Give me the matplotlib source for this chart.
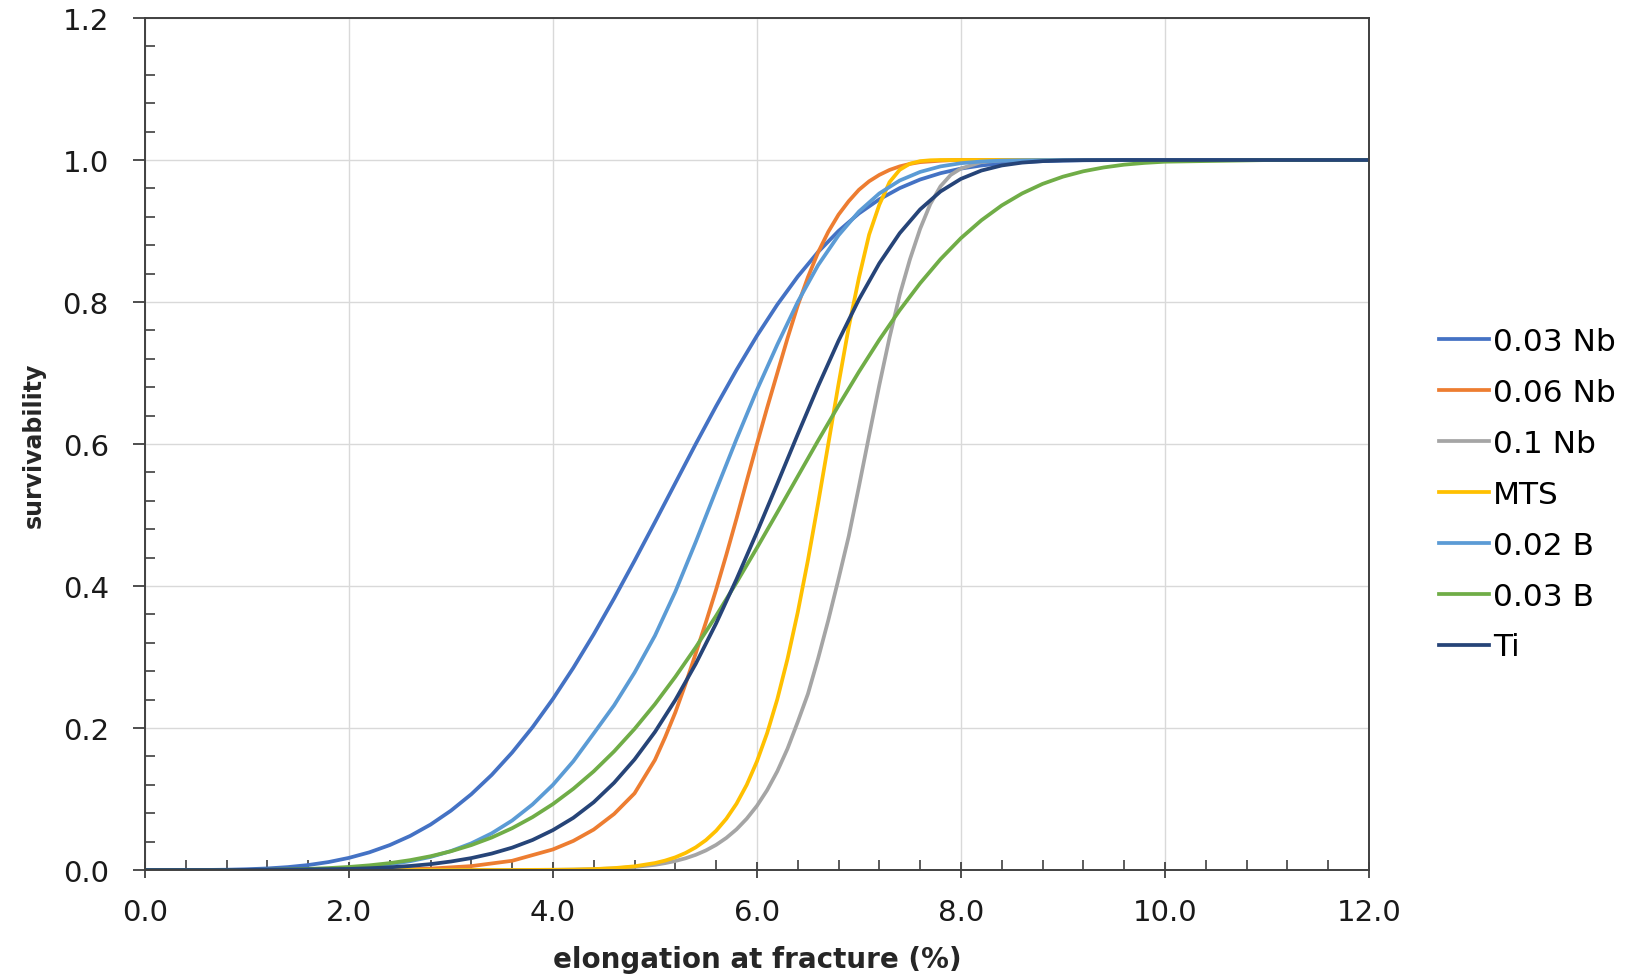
import matplotlib
matplotlib.use("Agg")
import matplotlib.pyplot as plt
from matplotlib.ticker import MultipleLocator, FormatStrFormatter

# elongation (%) sample points for the gentler curves
elong = [0.0, 0.2, 0.4, 0.6, 0.8, 1.0, 1.2, 1.4, 1.6, 1.8,
         2.0, 2.2, 2.4, 2.6, 2.8, 3.0, 3.2, 3.4, 3.6, 3.8,
         4.0, 4.2, 4.4, 4.6, 4.8, 5.0, 5.2, 5.4, 5.6, 5.8,
         6.0, 6.2, 6.4, 6.6, 6.8, 7.0, 7.2, 7.4, 7.6, 7.8,
         8.0, 8.2, 8.4, 8.6, 8.8, 9.0, 9.2, 9.4, 9.6, 9.8,
         10.0, 11.0, 12.0]

# finer sampling for the steep curves (0.06 Nb, 0.1 Nb, MTS)
elong_fine = [0.0, 1.0, 2.0, 2.4, 2.8, 3.2, 3.6, 4.0, 4.2, 4.4, 4.6, 4.8,
              5.0, 5.1, 5.2, 5.3, 5.4, 5.5, 5.6, 5.7, 5.8, 5.9,
              6.0, 6.1, 6.2, 6.3, 6.4, 6.5, 6.6, 6.7, 6.8, 6.9,
              7.0, 7.1, 7.2, 7.3, 7.4, 7.5, 7.6, 7.7, 7.8, 7.9,
              8.0, 8.2, 8.4, 8.6, 9.0, 10.0, 12.0]

nb003 = [0.0, 0.0, 0.0, 0.0001, 0.0004, 0.0011, 0.0022, 0.0041, 0.0070, 0.0112,
         0.0171, 0.0249, 0.0351, 0.0480, 0.0640, 0.0836, 0.1068, 0.1340, 0.1655, 0.2011,
         0.2410, 0.2848, 0.3321, 0.3826, 0.4355, 0.4899, 0.5450, 0.6000, 0.6533, 0.7044,
         0.7524, 0.7964, 0.8358, 0.8705, 0.9000, 0.9247, 0.9446, 0.9604, 0.9725, 0.9814,
         0.9879, 0.9923, 0.9953, 0.9972, 0.9984, 0.9991, 0.9996, 0.9998, 0.9999, 1.0,
         1.0, 1.0, 1.0]

nb006 = [0.0, 0.0, 0.0001, 0.0004, 0.0020, 0.0055, 0.0130, 0.029, 0.041, 0.057, 0.079, 0.108,
         0.155, 0.187, 0.222, 0.262, 0.305, 0.349, 0.395, 0.444, 0.495, 0.548,
         0.600, 0.651, 0.700, 0.749, 0.795, 0.835, 0.870, 0.899, 0.923, 0.942,
         0.958, 0.970, 0.979, 0.986, 0.991, 0.9945, 0.997, 0.998, 0.999, 0.9997,
         1.0, 1.0, 1.0, 1.0, 1.0, 1.0, 1.0]

nb01 = [0.0, 0.0, 0.0, 0.0, 0.0, 0.0, 0.0001, 0.0003, 0.0006, 0.0012, 0.0023, 0.0042,
        0.0073, 0.0097, 0.0127, 0.0165, 0.0214, 0.0276, 0.0354, 0.0452, 0.0573, 0.0723,
        0.0904, 0.1125, 0.1391, 0.1709, 0.2085, 0.2480, 0.2980, 0.3520, 0.4100, 0.4700,
        0.5400, 0.6120, 0.6830, 0.7500, 0.8100, 0.8600, 0.9030, 0.9380, 0.9630, 0.9790,
        0.9880, 0.9970, 0.9995, 1.0, 1.0, 1.0, 1.0]

mts = [0.0, 0.0, 0.0, 0.0, 0.0, 0.0, 0.0, 0.0003, 0.0006, 0.0013, 0.0027, 0.0052,
       0.0098, 0.0133, 0.0179, 0.0240, 0.0319, 0.0421, 0.0553, 0.0722, 0.0934, 0.1200,
       0.1529, 0.1928, 0.2406, 0.2974, 0.3628, 0.4363, 0.5166, 0.6003, 0.6844, 0.7645,
       0.8340, 0.8949, 0.9370, 0.9688, 0.9862, 0.9948, 0.9984, 0.9996, 1.0, 1.0,
       1.0, 1.0, 1.0, 1.0, 1.0, 1.0, 1.0]

b002 = [0.0, 0.0, 0.0, 0.0, 0.0, 0.0001, 0.0002, 0.0004, 0.0009, 0.0017,
        0.0030, 0.0050, 0.0081, 0.0124, 0.0184, 0.0267, 0.0376, 0.0517, 0.0697, 0.0924,
        0.1200, 0.1532, 0.1924, 0.2320, 0.2780, 0.3300, 0.3920, 0.4620, 0.5350, 0.6070,
        0.6760, 0.7400, 0.8000, 0.8519, 0.8939, 0.9274, 0.9529, 0.9711, 0.9832, 0.9910,
        0.9955, 0.9979, 0.9991, 0.9996, 0.9999, 1.0, 1.0, 1.0, 1.0, 1.0,
        1.0, 1.0, 1.0]

b003 = [0.0, 0.0, 0.0, 0.0, 0.0, 0.0002, 0.0004, 0.0009, 0.0016, 0.0027,
        0.0043, 0.0066, 0.0097, 0.0139, 0.0194, 0.0264, 0.0351, 0.0458, 0.0589, 0.0745,
        0.0929, 0.1144, 0.1390, 0.1671, 0.1987, 0.2336, 0.2721, 0.3136, 0.3581, 0.4049,
        0.4537, 0.5037, 0.5543, 0.6048, 0.6541, 0.7017, 0.7468, 0.7885, 0.8264, 0.8603,
        0.8899, 0.9150, 0.9360, 0.9529, 0.9663, 0.9765, 0.9841, 0.9895, 0.9934, 0.9959,
        0.9976, 0.9999, 1.0]

ti = [0.0, 0.0, 0.0, 0.0, 0.0, 0.0002, 0.0004, 0.0006, 0.0009, 0.0012,
      0.0015, 0.0025, 0.0038, 0.0057, 0.0083, 0.0120, 0.0168, 0.0232, 0.0315, 0.0423,
      0.0562, 0.0735, 0.0955, 0.1229, 0.1557, 0.1944, 0.2394, 0.2904, 0.3474, 0.4096,
      0.4757, 0.5442, 0.6136, 0.6814, 0.7454, 0.8036, 0.8545, 0.8969, 0.9304, 0.9557,
      0.9734, 0.9851, 0.9923, 0.9963, 0.9984, 0.9994, 0.9998, 0.9999, 1.0, 1.0,
      1.0, 1.0, 1.0]

labels = ["0.03 Nb", "0.06 Nb", "0.1 Nb", "MTS", "0.02 B", "0.03 B", "Ti"]
colors = ["#4472C4", "#ED7D31", "#A5A5A5", "#FFC000", "#5B9BD5", "#70AD47", "#264478"]
xs = [elong, elong_fine, elong_fine, elong_fine, elong, elong, elong]
series = [nb003, nb006, nb01, mts, b002, b003, ti]

plt.rcParams['font.family'] = ['DejaVu Sans']

fig = plt.figure(figsize=(16.25, 9.79), dpi=100)
ax = fig.add_axes([0.0892, 0.1103, 0.7532, 0.8703])

for x, ys, lab, col in zip(xs, series, labels, colors):
    ax.plot(x, ys, color=col, lw=2.7, label=lab, solid_joinstyle='round')

ax.set_xlim(0, 12)
ax.set_ylim(0, 1.2)
ax.xaxis.set_major_locator(MultipleLocator(2.0))
ax.xaxis.set_minor_locator(MultipleLocator(0.4))
ax.yaxis.set_major_locator(MultipleLocator(0.2))
ax.yaxis.set_minor_locator(MultipleLocator(0.04))
ax.xaxis.set_major_formatter(FormatStrFormatter('%.1f'))
ax.yaxis.set_major_formatter(FormatStrFormatter('%.1f'))

ax.grid(True, which='major', color='#D9D9D9', lw=1.0)
ax.set_axisbelow(True)

for sp in ax.spines.values():
    sp.set_color('#404040')
    sp.set_linewidth(1.4)

ax.tick_params(axis='x', which='major', direction='inout', length=12, width=1.3,
               color='#404040', labelsize=21, pad=14)
ax.tick_params(axis='y', which='major', direction='out', length=9, width=1.3,
               color='#404040', labelsize=21, pad=17)
ax.tick_params(which='minor', direction='in', length=7, width=1.2, color='#404040')
ax.tick_params(axis='both', labelcolor='#1a1a1a')

ax.set_xlabel("elongation at fracture (%)", fontsize=20, fontweight='bold', color='#262626')
ax.set_ylabel("survivability", fontsize=17, fontweight='bold', color='#262626')
ax.xaxis.set_label_coords(0.5, -0.088)
ax.yaxis.set_label_coords(-0.081, 0.5)

fig.legend(loc='center left', bbox_to_anchor=(0.8855, 0.494), frameon=False,
           fontsize=22.5, handlelength=1.6, handletextpad=0.12, labelspacing=0.70,
           borderpad=0, borderaxespad=0)

fig.savefig("out.png", dpi=100)
